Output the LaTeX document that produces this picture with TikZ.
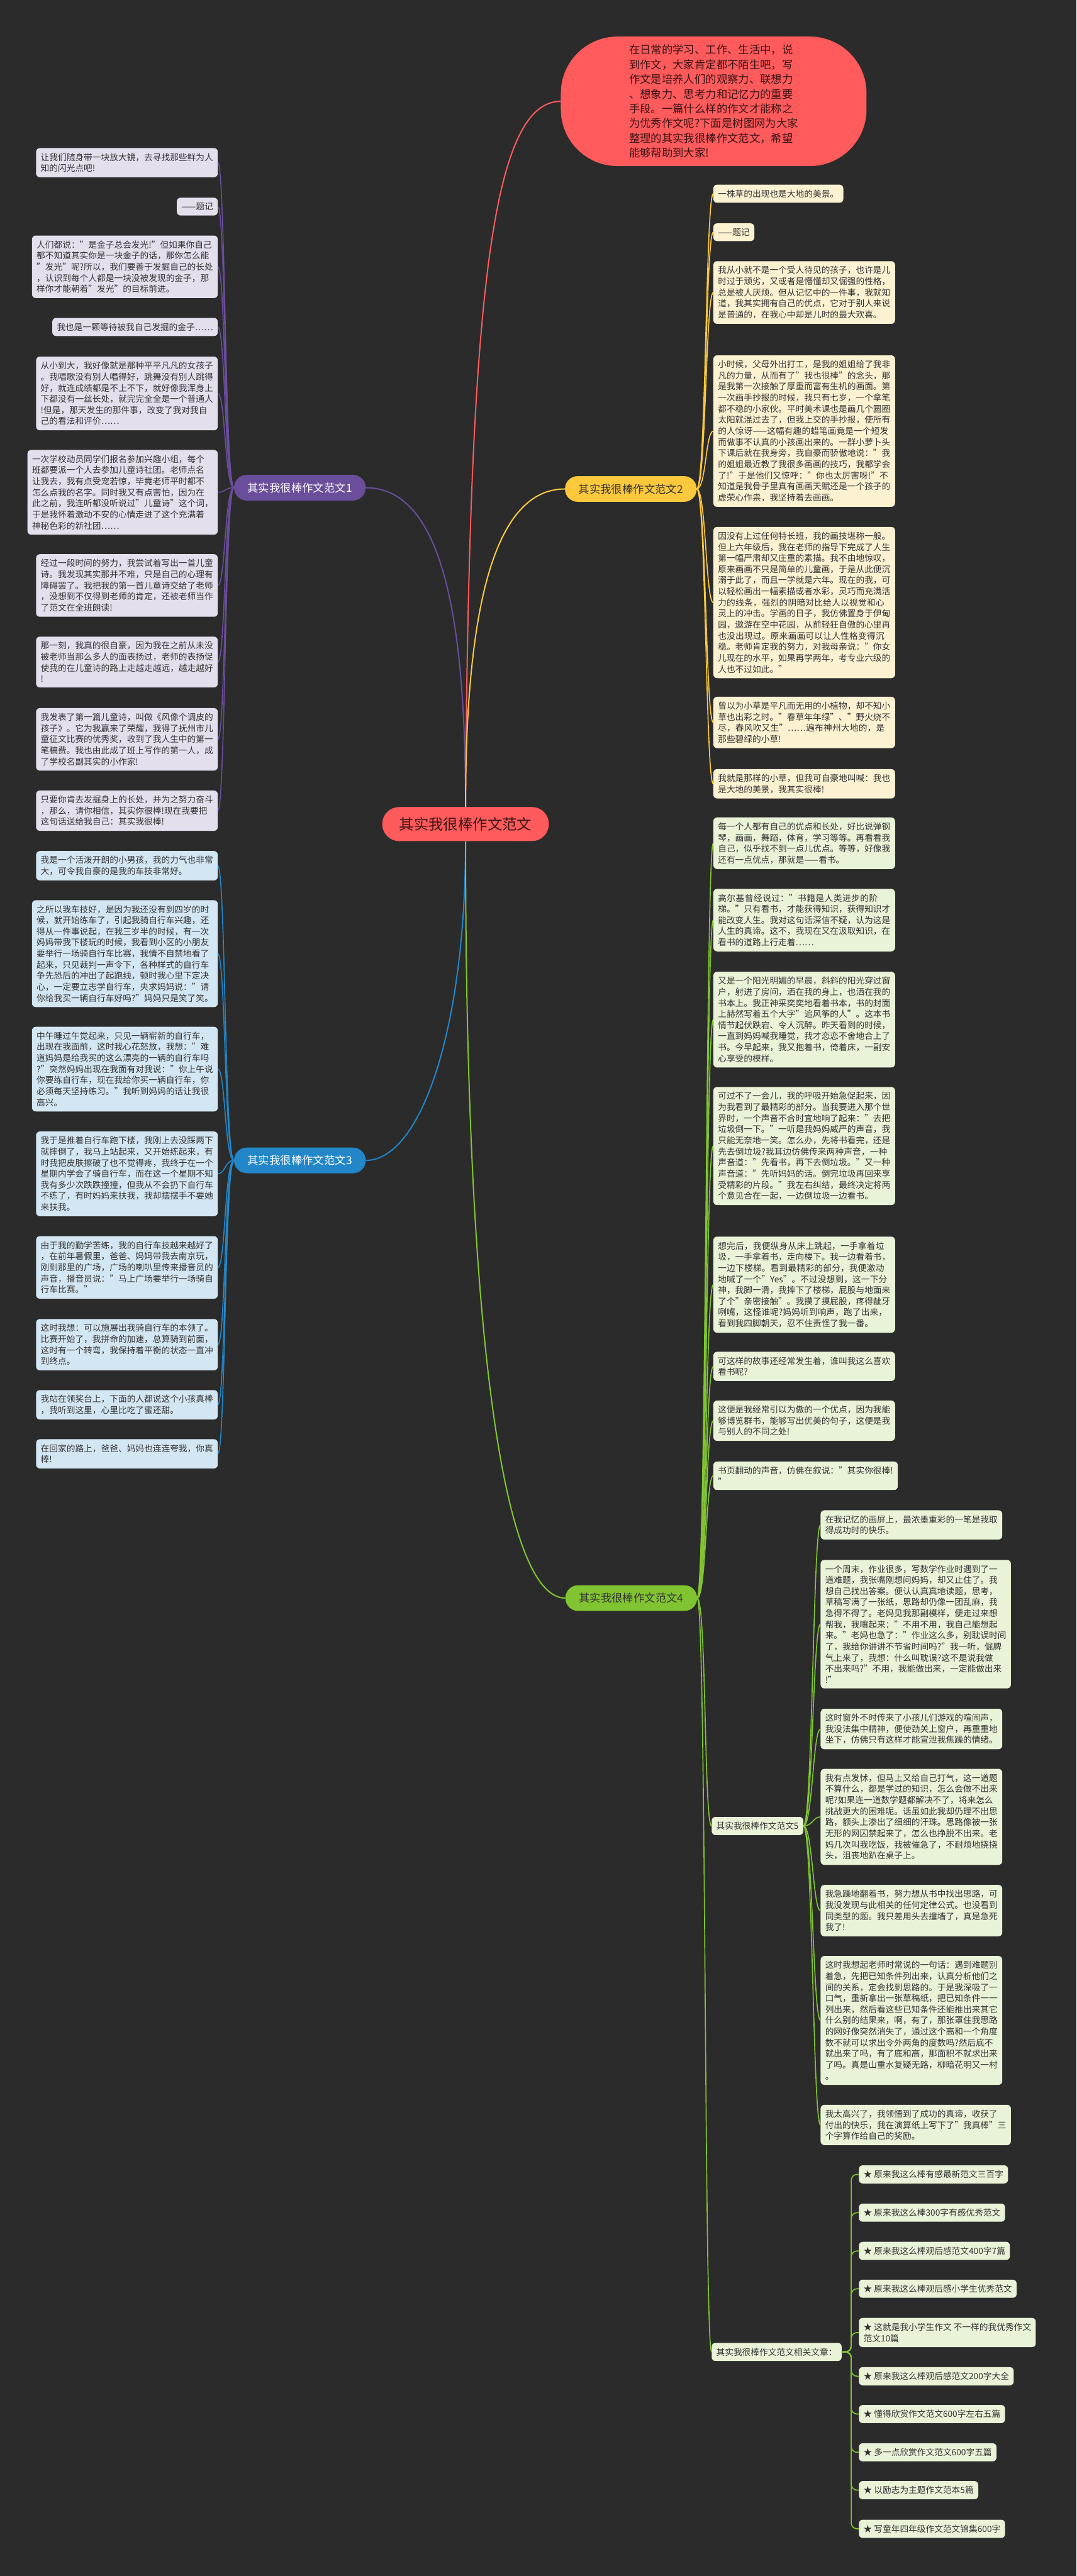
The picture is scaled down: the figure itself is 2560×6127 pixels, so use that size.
\documentclass[tikz,border=0pt]{standalone}
\usepackage{fontspec}
\setmainfont{Noto Sans CJK SC}
\usetikzlibrary{calc}
\definecolor{bg}{HTML}{2B2B2B}
\definecolor{txt}{HTML}{333333}
\definecolor{redc}{HTML}{FF5A5C}
\definecolor{redt}{HTML}{3A1414}
\definecolor{purc}{HTML}{6A4D9B}
\definecolor{purb}{HTML}{E3DFEC}
\definecolor{yelc}{HTML}{FDC93C}
\definecolor{yelb}{HTML}{FCF2D2}
\definecolor{bluc}{HTML}{2286C8}
\definecolor{blub}{HTML}{D3E6F3}
\definecolor{grnc}{HTML}{80C531}
\definecolor{grnb}{HTML}{E8F3D7}
\newcommand\connL[3]{\draw[#1,line width=2.5pt] (#2.west) .. controls ($(#2.west)+(-22,0)$) and ($(#3.east)+(18,0)$) .. (#3.east);}
\newcommand\connR[3]{\draw[#1,line width=2.5pt] (#2.east) .. controls ($(#2.east)+(22,0)$) and ($(#3.west)+(-18,0)$) .. (#3.west);}
\begin{document}
\begin{tikzpicture}[x=1pt,y=-1pt,
  box/.style={rounded corners=9pt, inner xsep=11pt, inner ysep=12pt, font=\fontsize{20.5}{26.4}\selectfont, align=left, text=txt},
  wbox/.style={box, minimum width=432pt},
  abox/.style={box, text width=410pt, execute at begin node={\XeTeXlinebreaklocale "zh"\XeTeXlinebreakskip=0pt plus 1pt}},
  pill/.style={rounded corners=30pt, minimum width=313pt, minimum height=61pt, inner sep=0pt, font=\fontsize{26}{30}\selectfont},
  lbl/.style={box, fill=grnb}
]
\useasboundingbox (0,0) rectangle (2560,6127);
\fill[bg] (0,0) rectangle (2560,6127);

% ---------- main and intro ----------
\node[fill=redc, text=redt, rounded corners=40pt, minimum width=396pt, minimum height=81pt, inner sep=0pt, font=\fontsize{35}{40}\selectfont] (m) at (1107,1960) {其实我很棒作文范文};
\node[fill=redc, text=redt, rounded corners=135pt, minimum width=727pt, minimum height=308pt, align=left, font=\fontsize{26}{35}\selectfont] (intro) at (1697,241) {在日常的学习、工作、生活中，说\\到作文，大家肯定都不陌生吧，写\\作文是培养人们的观察力、联想力\\、想象力、思考力和记忆力的重要\\手段。一篇什么样的作文才能称之\\为优秀作文呢?下面是树图网为大家\\整理的其实我很棒作文范文，希望\\能够帮助到大家!};

\node[pill, fill=purc, text=white] (s1) at (713,1160) {其实我很棒作文范文1};
\node[pill, fill=yelc, text=txt] (s2) at (1500,1163) {其实我很棒作文范文2};
\node[pill, fill=bluc, text=white] (s3) at (713,2760) {其实我很棒作文范文3};
\node[pill, fill=grnc, text=txt] (s4) at (1501,3801) {其实我很棒作文范文4};

\draw[redc, line width=3pt] (m.north) .. controls (1115,700) and (1170,241) .. (intro.west);
\draw[purc, line width=3pt] (m.north) .. controls (1107,1500) and (1060,1160) .. (s1.east);
\draw[yelc, line width=3pt] (m.north) .. controls (1107,1500) and (1160,1163) .. (s2.west);
\draw[bluc, line width=3pt] (m.south) .. controls (1107,2450) and (1000,2760) .. (s3.east);
\draw[grnc, line width=3pt] (m.south) .. controls (1107,3200) and (1200,3801) .. (s4.west);

% ---------- section 1 ----------
\begin{scope}[every node/.append style={fill=purb, anchor=north east}]
\node[wbox] (a1) at (518,352) {让我们随身带一块放大镜，去寻找那些鲜为人\\知的闪光点吧!};
\node[box] (a2) at (518,470) {——题记};
\node[wbox] (a3) at (518,560) {人们都说："是金子总会发光!"但如果你自己\\都不知道其实你是一块金子的话，那你怎么能\\"发光"呢?所以，我们要善于发掘自己的长处\\，认识到每个人都是一块没被发现的金子，那\\样你才能朝着"发光"的目标前进。};
\node[box] (a4) at (518,756) {我也是一颗等待被我自己发掘的金子……};
\node[wbox] (a5) at (518,848) {从小到大，我好像就是那种平平凡凡的女孩子\\。我唱歌没有别人唱得好，跳舞没有别人跳得\\好，就连成绩都是不上不下，就好像我浑身上\\下都没有一丝长处，就完完全全是一个普通人\\!但是，那天发生的那件事，改变了我对我自\\己的看法和评价……};
\node[wbox] (a6) at (518,1070) {一次学校动员同学们报名参加兴趣小组，每个\\班都要派一个人去参加儿童诗社团。老师点名\\让我去，我有点受宠若惊，毕竟老师平时都不\\怎么点我的名字。同时我又有点害怕，因为在\\此之前，我连听都没听说过"儿童诗"这个词，\\于是我怀着激动不安的心情走进了这个充满着\\神秘色彩的新社团……};
\node[wbox] (a7) at (518,1318) {经过一段时间的努力，我尝试着写出一首儿童\\诗。我发现其实那并不难，只是自己的心理有\\障碍罢了。我把我的第一首儿童诗交给了老师\\，没想到不仅得到老师的肯定，还被老师当作\\了范文在全班朗读!};
\node[wbox] (a8) at (518,1514) {那一刻，我真的很自豪，因为我在之前从未没\\被老师当那么多人的面表扬过，老师的表扬促\\使我的在儿童诗的路上走越走越远，越走越好\\!};
\node[wbox] (a9) at (518,1684) {我发表了第一篇儿童诗，叫做《风像个调皮的\\孩子》。它为我赢来了荣耀，我得了抚州市儿\\童征文比赛的优秀奖，收到了我人生中的第一\\笔稿费。我也由此成了班上写作的第一人，成\\了学校名副其实的小作家!};
\node[wbox] (a10) at (518,1880) {只要你肯去发掘身上的长处，并为之努力奋斗\\，那么，请你相信，其实你很棒!现在我要把\\这句话送给我自己：其实我很棒!};
\end{scope}
\foreach \i in {1,...,10} {\connL{purc}{s1}{a\i}}

% ---------- section 3 ----------
\begin{scope}[every node/.append style={fill=blub, anchor=north east}]
\node[wbox] (b1) at (518,2024) {我是一个活泼开朗的小男孩，我的力气也非常\\大，可令我自豪的是我的车技非常好。};
\node[wbox] (b2) at (518,2141) {之所以我车技好，是因为我还没有到四岁的时\\候，就开始练车了，引起我骑自行车兴趣，还\\得从一件事说起，在我三岁半的时候，有一次\\妈妈带我下楼玩的时候，我看到小区的小朋友\\要举行一场骑自行车比赛，我情不自禁地看了\\起来，只见裁判一声令下，各种样式的自行车\\争先恐后的冲出了起跑线，顿时我心里下定决\\心，一定要立志学自行车，央求妈妈说："请\\你给我买一辆自行车好吗?"妈妈只是笑了笑。};
\node[wbox] (b3) at (518,2442) {中午睡过午觉起来，只见一辆崭新的自行车，\\出现在我面前，这时我心花怒放，我想："难\\道妈妈是给我买的这么漂亮的一辆的自行车吗\\?"突然妈妈出现在我面有对我说："你上午说\\你要练自行车，现在我给你买一辆自行车，你\\必须每天坚持练习。"我听到妈妈的话让我很\\高兴。};
\node[wbox] (b4) at (518,2691) {我于是推着自行车跑下楼，我刚上去没踩两下\\就摔倒了，我马上站起来，又开始练起来，有\\时我把皮肤擦破了也不觉得疼，我终于在一个\\星期内学会了骑自行车，而在这一个星期不知\\我有多少次跌跌撞撞，但我从不会扔下自行车\\不练了，有时妈妈来扶我，我却摆摆手不要她\\来扶我。};
\node[wbox] (b5) at (518,2940) {由于我的勤学苦练，我的自行车技越来越好了\\，在前年暑假里，爸爸、妈妈带我去南京玩，\\刚到那里的广场，广场的喇叭里传来播音员的\\声音，播音员说："马上广场要举行一场骑自\\行车比赛。"};
\node[wbox] (b6) at (518,3137) {这时我想：可以施展出我骑自行车的本领了。\\比赛开始了，我拼命的加速，总算骑到前面，\\这时有一个转弯，我保持着平衡的状态一直冲\\到终点。};
\node[wbox] (b7) at (518,3306) {我站在领奖台上，下面的人都说这个小孩真棒\\，我听到这里，心里比吃了蜜还甜。};
\node[wbox] (b8) at (518,3423) {在回家的路上，爸爸、妈妈也连连夸我，你真\\棒!};
\end{scope}
\foreach \i in {1,...,8} {\connL{bluc}{s3}{b\i}}

% ---------- section 2 ----------
\begin{scope}[every node/.append style={fill=yelb, anchor=north west}]
\node[box] (c1) at (1696,439) {一株草的出现也是大地的美景。};
\node[box] (c2) at (1696,531) {——题记};
\node[abox] (c3) at (1696,621) {我从小就不是一个受人待见的孩子，也许是儿时过于顽劣，又或者是懵懂却又倔强的性格，总是被人厌烦。但从记忆中的一件事，我就知道，我其实拥有自己的优点，它对于别人来说是普通的，在我心中却是儿时的最大欢喜。};
\node[abox] (c4) at (1696,845) {小时候，父母外出打工，是我的姐姐给了我非凡的力量，从而有了"我也很棒"的念头，那是我第一次接触了厚重而富有生机的画面。第一次画手抄报的时候，我只有七岁，一个拿笔都不稳的小家伙。平时美术课也是画几个圆圈太阳就混过去了，但我上交的手抄报，使所有的人惊讶——这幅有趣的蜡笔画竟是一个短发而做事不认真的小孩画出来的。一群小萝卜头下课后就在我身旁，我自豪而骄傲地说："我的姐姐最近教了我很多画画的技巧，我都学会了!"于是他们又惊呼："你也太厉害呀!"不知道是我骨子里真有画画天赋还是一个孩子的虚荣心作祟，我坚持着去画画。};
\node[abox] (c5) at (1696,1253) {因没有上过任何特长班，我的画技堪称一般。但上六年级后，我在老师的指导下完成了人生第一幅严肃却又庄重的素描。我不由地惊叹，原来画画不只是简单的儿童画，于是从此便沉溺于此了，而且一学就是六年。现在的我，可以轻松画出一幅素描或者水彩，灵巧而充满活力的线条，强烈的阴暗对比给人以视觉和心灵上的冲击。学画的日子，我仿佛置身于伊甸园，遨游在空中花园，从前轻狂自傲的心里再也没出现过。原来画画可以让人性格变得沉稳。老师肯定我的努力，对我母亲说："你女儿现在的水平，如果再学两年，考专业六级的人也不过如此。"};
\node[abox] (c6) at (1696,1657) {曾以为小草是平凡而无用的小植物，却不知小草也出彩之时。"春草年年绿"、"野火烧不尽，春风吹又生"……遍布神州大地的，是那些碧绿的小草!};
\node[abox] (c7) at (1696,1829) {我就是那样的小草，但我可自豪地叫喊：我也是大地的美景，我其实很棒!};
\end{scope}
\foreach \i in {1,...,7} {\connR{yelc}{s2}{c\i}}

% ---------- section 4 ----------
\begin{scope}[every node/.append style={fill=grnb, anchor=north west}]
\node[abox] (d1) at (1696,1944) {每一个人都有自己的优点和长处，好比说弹钢琴，画画，舞蹈，体育，学习等等。再看看我自己，似乎找不到一点儿优点。等等，好像我还有一点优点，那就是——看书。};
\node[abox] (d2) at (1696,2114) {高尔基曾经说过："书籍是人类进步的阶梯。"只有看书，才能获得知识，获得知识才能改变人生。我对这句话深信不疑，认为这是人生的真谛。这不，我现在又在汲取知识，在看书的道路上行走着……};
\node[abox] (d3) at (1696,2311) {又是一个阳光明媚的早晨，斜斜的阳光穿过窗户，射进了房间，洒在我的身上，也洒在我的书本上。我正神采奕奕地看着书本，书的封面上赫然写着五个大字"追风筝的人"。这本书情节起伏跌宕、令人沉醉。昨天看到的时候，一直到妈妈喊我睡觉，我才恋恋不舍地合上了书。今早起来，我又抱着书，倚着床，一副安心享受的模样。};
\node[abox] (d4) at (1696,2585) {可过不了一会儿，我的呼吸开始急促起来，因为我看到了最精彩的部分。当我要进入那个世界时，一个声音不合时宜地响了起来："去把垃圾倒一下。"一听是我妈妈威严的声音，我只能无奈地一笑。怎么办，先将书看完，还是先去倒垃圾?我耳边仿佛传来两种声音，一种声音道："先看书，再下去倒垃圾。"又一种声音道："先听妈妈的话。倒完垃圾再回来享受精彩的片段。"我左右纠结，最终决定将两个意见合在一起，一边倒垃圾一边看书。};
\node[abox] (d5) at (1696,2941) {想完后，我便纵身从床上跳起，一手拿着垃圾，一手拿着书，走向楼下。我一边看着书，一边下楼梯。看到最精彩的部分，我便激动地喊了一个"Yes"。不过没想到，这一下分神，我脚一滑，我摔下了楼梯，屁股与地面来了个"亲密接触"。我摸了摸屁股，疼得龇牙咧嘴，这怪谁呢?妈妈听到响声，跑了出来，看到我四脚朝天，忍不住责怪了我一番。};
\node[abox] (d6) at (1696,3215) {可这样的故事还经常发生着，谁叫我这么喜欢看书呢?};
\node[abox] (d7) at (1696,3331) {这便是我经常引以为傲的一个优点，因为我能够博览群书，能够写出优美的句子，这便是我与别人的不同之处!};
\node[wbox] (d8) at (1696,3476) {书页翻动的声音，仿佛在叙说："其实你很棒!\\"};
\node[lbl, anchor=west] (d9) at (1692,4343) {其实我很棒作文范文5};
\node[lbl, anchor=west] (d10) at (1692,5594) {其实我很棒作文范文相关文章：};
\end{scope}
\foreach \i in {1,...,10} {\connR{grnc}{s4}{d\i}}

% ---------- section 5 ----------
\begin{scope}[every node/.append style={fill=grnb, anchor=north west}]
\node[wbox] (e1) at (1951,3592) {在我记忆的画屏上，最浓墨重彩的一笔是我取\\得成功时的快乐。};
\node[wbox] (e2) at (1951,3710) {一个周末，作业很多，写数学作业时遇到了一\\道难题，我张嘴刚想问妈妈，却又止住了。我\\想自己找出答案。便认认真真地读题，思考，\\草稿写满了一张纸，思路却仍像一团乱麻，我\\急得不得了。老妈见我那副模样，便走过来想\\帮我，我嚷起来："不用不用，我自己能想起\\来。"老妈也急了："作业这么多，别耽误时间\\了，我给你讲讲不节省时间吗?"我一听，倔脾\\气上来了，我想：什么叫耽误?这不是说我做\\不出来吗?"不用，我能做出来，一定能做出来\\!"};
\node[wbox] (e3) at (1951,4064) {这时窗外不时传来了小孩儿们游戏的喧闹声，\\我没法集中精神，便使劲关上窗户，再重重地\\坐下，仿佛只有这样才能宣泄我焦躁的情绪。};
\node[wbox] (e4) at (1951,4207) {我有点发怵，但马上又给自己打气，这一道题\\不算什么，都是学过的知识，怎么会做不出来\\呢?如果连一道数学题都解决不了，将来怎么\\挑战更大的困难呢。话虽如此我却仍理不出思\\路，额头上渗出了细细的汗珠。思路像被一张\\无形的网囚禁起来了，怎么也挣脱不出来。老\\妈几次叫我吃饭，我被催急了，不耐烦地挠挠\\头，沮丧地趴在桌子上。};
\node[wbox] (e5) at (1951,4483) {我急躁地翻着书，努力想从书中找出思路，可\\我没发现与此相关的任何定律公式。也没看到\\同类型的题。我只差用头去撞墙了，真是急死\\我了!};
\node[wbox] (e6) at (1951,4652) {这时我想起老师时常说的一句话：遇到难题别\\着急，先把已知条件列出来，认真分析他们之\\间的关系，定会找到思路的。于是我深吸了一\\口气，重新拿出一张草稿纸，把已知条件一一\\列出来，然后看这些已知条件还能推出来其它\\什么别的结果来，啊，有了，那张罩住我思路\\的网好像突然消失了，通过这个高和一个角度\\数不就可以求出令外两角的度数吗?然后底不\\就出来了吗，有了底和高，那面积不就求出来\\了吗。真是山重水复疑无路，柳暗花明又一村\\。};
\node[wbox] (e7) at (1951,5006) {我太高兴了，我领悟到了成功的真谛，收获了\\付出的快乐，我在演算纸上写下了"我真棒"三\\个字算作给自己的奖励。};
\end{scope}
\foreach \i in {1,...,7} {\connR{grnc}{d9}{e\i}}

% ---------- related list ----------
\begin{scope}[every node/.append style={fill=grnb, anchor=north west}]
\node[box] (f1) at (2042,5150) {★ 原来我这么棒有感最新范文三百字};
\node[box] (f2) at (2042,5241) {★ 原来我这么棒300字有感优秀范文};
\node[box] (f3) at (2042,5332) {★ 原来我这么棒观后感范文400字7篇};
\node[box] (f4) at (2042,5422) {★ 原来我这么棒观后感小学生优秀范文};
\node[box] (f5) at (2042,5513) {★ 这就是我小学生作文 不一样的我优秀作文\\范文10篇};
\node[box] (f6) at (2042,5630) {★ 原来我这么棒观后感范文200字大全};
\node[box] (f7) at (2042,5720) {★ 懂得欣赏作文范文600字左右五篇};
\node[box] (f8) at (2042,5811) {★ 多一点欣赏作文范文600字五篇};
\node[box] (f9) at (2042,5901) {★ 以励志为主题作文范本5篇};
\node[box] (f10) at (2042,5993) {★ 写童年四年级作文范文锦集600字};
\end{scope}
\foreach \i in {1,...,10} {\draw[grnc, line width=2.5pt, rounded corners=14pt] (d10.east) -- (2024,5594) |- (f\i.west);}
\end{tikzpicture}
\end{document}
